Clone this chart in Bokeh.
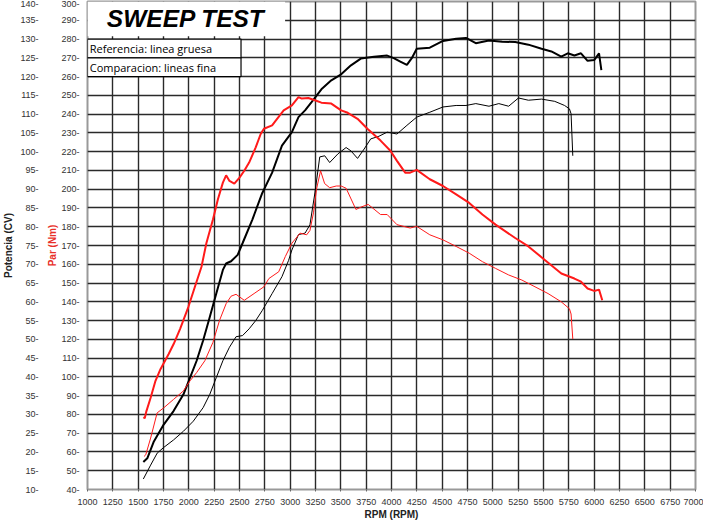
from bokeh.plotting import figure
from bokeh.models import Range1d, LinearAxis, FixedTicker, PrintfTickFormatter
from bokeh.core.properties import value
from bokeh.embed import file_html
from bokeh.resources import INLINE

# ---------------- data ----------------
# Reference run (thick lines)
ref_tq_rpm = [1551, 1565, 1580, 1623, 1671, 1720, 1801, 1850, 1914, 1995, 2060, 2125, 2173, 2238,
              2287, 2336, 2368, 2401, 2449, 2498, 2547, 2595, 2660, 2709, 2741, 2822, 2871, 2936,
              3017, 3082, 3114, 3179, 3244, 3308, 3406, 3503, 3568, 3665, 3762, 3892, 3989, 4054,
              4135, 4184, 4249, 4378, 4508, 4638, 4767, 4897, 5027, 5221, 5351, 5513, 5676, 5805,
              5870, 5935, 6000, 6048, 6080]
ref_tq_nm = [78.5, 78.0, 81.5, 88.9, 97.9, 104.1, 112.2, 117.5, 125.6, 137.2, 148.0, 158.7, 171.2, 183.8,
             194.6, 203.5, 207.4, 204.4, 203.0, 206.0, 209.8, 214.2, 222.3, 229.4, 232.2, 234.0, 237.5, 242.0,
             244.7, 249.1, 248.3, 248.6, 247.4, 246.1, 245.6, 242.0, 240.7, 237.5, 232.2, 225.9, 220.5, 215.1,
             208.8, 208.8, 210.3, 205.3, 201.7, 197.2, 192.7, 186.5, 181.1, 174.0, 169.5, 162.3, 155.1, 152.4,
             150.7, 147.1, 145.8, 146.5, 140.8]

ref_pw_rpm = [1551, 1590, 1655, 1752, 1849, 1946, 2012, 2077, 2141, 2206, 2271, 2336, 2368, 2417,
              2482, 2530, 2627, 2725, 2822, 2919, 3017, 3082, 3147, 3211, 3308, 3406, 3503, 3600,
              3697, 3827, 3957, 4022, 4087, 4152, 4200, 4249, 4378, 4508, 4638, 4735, 4832, 4962,
              5092, 5221, 5351, 5481, 5578, 5675, 5740, 5805, 5870, 5935, 6000, 6048, 6071]
ref_pw_cv = [17.3, 18.3, 22.8, 27.3, 30.9, 35.3, 39.8, 44.3, 49.7, 55.9, 62.2, 68.5, 70.2, 70.8,
             72.5, 75.6, 81.9, 89.0, 94.4, 101.6, 105.2, 109.2, 111.0, 113.2, 116.6, 119.0, 120.6, 123.0,
             124.8, 125.3, 125.6, 124.9, 124.0, 123.1, 124.9, 127.4, 127.7, 129.5, 130.1, 130.3, 128.9, 129.6,
             129.3, 129.2, 128.5, 127.4, 126.7, 125.3, 126.2, 125.6, 126.2, 124.2, 124.4, 126.2, 121.7]

# Comparison run (thin lines)
cmp_tq_rpm = [1558, 1575, 1623, 1687, 1752, 1849, 1946, 2012, 2077, 2158, 2238, 2303, 2368, 2417,
              2466, 2547, 2644, 2741, 2790, 2887, 2952, 3017, 3098, 3163, 3195, 3230, 3260, 3300,
              3340, 3390, 3455, 3503, 3552, 3649, 3700, 3770, 3892, 3957, 4054, 4184, 4249, 4378,
              4508, 4638, 4767, 4897, 5027, 5156, 5286, 5416, 5545, 5675, 5756, 5772, 5789]
cmp_tq_nm = [57.6, 58.5, 67.4, 80.8, 83.5, 88.0, 92.5, 97.9, 102.3, 108.6, 118.4, 130.1, 139.0, 143.0,
             144.0, 140.8, 144.4, 148.0, 152.4, 156.0, 164.1, 171.2, 176.6, 175.7, 178.0, 187.4, 200.0, 209.8,
             203.0, 200.8, 201.7, 201.7, 200.5, 189.2, 190.5, 191.9, 186.5, 186.5, 181.1, 179.3, 180.2, 175.7,
             173.0, 169.5, 165.9, 161.4, 157.8, 154.3, 151.6, 148.0, 144.4, 140.0, 136.3, 133.5, 120.2]

cmp_pw_rpm = [1551, 1623, 1688, 1752, 1849, 1946, 2044, 2141, 2206, 2271, 2336, 2401, 2466, 2530,
              2595, 2660, 2725, 2822, 2919, 2984, 3017, 3082, 3147, 3195, 3244, 3292, 3341, 3390,
              3471, 3552, 3600, 3665, 3730, 3795, 3876, 3957, 4054, 4152, 4249, 4378, 4508, 4638,
              4735, 4832, 4962, 5059, 5156, 5253, 5351, 5481, 5611, 5708, 5756, 5772, 5789]
cmp_pw_cv = [12.8, 16.5, 19.7, 21.2, 23.2, 25.5, 28.2, 31.8, 35.3, 39.8, 44.3, 47.9, 50.7, 51.0,
             52.8, 55.0, 57.7, 62.2, 66.7, 71.0, 73.8, 77.9, 78.3, 80.5, 89.0, 98.6, 98.9, 97.1,
             99.4, 101.1, 100.2, 98.2, 100.7, 103.4, 104.1, 105.2, 104.7, 107.0, 109.2, 110.5, 111.9, 112.3,
             112.3, 112.8, 112.1, 112.8, 112.1, 114.3, 113.7, 114.0, 113.4, 112.3, 111.4, 110.1, 98.9]

rpm_ticks = list(range(1000, 7001, 250))
torque_ticks = list(range(40, 301, 10))
power_ticks = list(range(10, 141, 5))

title_text = "SWEEP TEST"
legend_lines = ["Referencia: linea gruesa", "Comparacion: lineas fina"]

# ---------------- figure ----------------
FONT = "Liberation Sans"
p = figure(width=703, height=522, x_range=Range1d(1000, 7000), y_range=Range1d(40, 300),
           output_backend="svg", toolbar_location=None,
           min_border_top=1, min_border_bottom=0, min_border_left=0, min_border_right=8)
p.extra_y_ranges = {"power": Range1d(10, 140)}
p.background_fill_color = "white"
p.border_fill_color = "white"
p.outline_line_color = "#999999"
p.outline_line_width = 2

# grid
p.xgrid.ticker = FixedTicker(ticks=rpm_ticks)
p.ygrid.ticker = FixedTicker(ticks=torque_ticks)
for g in (p.xgrid[0], p.ygrid[0]):
    g.grid_line_color = "#2a2a2a"
    g.grid_line_width = 1.4
    g.grid_line_alpha = 1.0

# x axis
xa = p.xaxis[0]
xa.ticker = FixedTicker(ticks=rpm_ticks)
xa.axis_line_color = None
xa.major_tick_line_color = "#666666"
xa.major_tick_out = 2
xa.major_tick_in = 0
xa.minor_tick_line_color = None
xa.major_label_standoff = 7
xa.major_label_text_font = FONT
xa.major_label_text_font_size = "9px"
xa.major_label_text_color = "#333333"
xa.axis_label = "RPM (RPM)"
xa.axis_label_text_font = FONT
xa.axis_label_text_font_size = "10px"
xa.axis_label_text_font_style = "bold"
xa.axis_label_text_color = "#222222"
xa.axis_label_standoff = 1

def style_y(ax, ticks, label, label_color, standoff, label_standoff):
    ax.ticker = FixedTicker(ticks=ticks)
    ax.formatter = PrintfTickFormatter(format="%d-")
    ax.axis_line_color = None
    ax.major_tick_line_color = None
    ax.minor_tick_line_color = None
    ax.major_tick_out = 0
    ax.major_tick_in = 0
    ax.major_label_standoff = standoff
    ax.major_label_text_font = FONT
    ax.major_label_text_font_size = "9px"
    ax.major_label_text_color = "#333333"
    ax.axis_label = label
    ax.axis_label_text_font = FONT
    ax.axis_label_text_font_size = "10px"
    ax.axis_label_text_font_style = "bold"
    ax.axis_label_text_color = label_color
    ax.axis_label_standoff = label_standoff

style_y(p.yaxis[0], torque_ticks, "Par (Nm)", "#e8302a", 8, 0)
pax = LinearAxis(y_range_name="power")
p.add_layout(pax, "left")
style_y(pax, power_ticks, "Potencia (CV)", "#222222", 6, 3)

# title box and legend box (white panels over the grid)
p.quad(left=[1000], right=[2950], bottom=[281.5], top=[300], fill_color="white", line_color=None)
p.quad(left=[1000, 1000], right=[2515, 2515], bottom=[270, 260], top=[280, 270],
       fill_color="white", line_color="black", line_width=1.2)
p.text(x=[1970], y=[291.2], text=[title_text], text_font=value(FONT), text_font_style="bold italic",
       text_font_size="24.5px", text_align="center", text_baseline="middle", text_color="black")
p.text(x=[1022, 1022], y=[275.2, 265.0], text=legend_lines, text_font=value("Open Sans"),
       text_font_size="11px", text_align="left", text_baseline="middle", text_color="black")

# curves
p.line(ref_pw_rpm, ref_pw_cv, y_range_name="power", line_color="black", line_width=2.0)
p.line(cmp_pw_rpm, cmp_pw_cv, y_range_name="power", line_color="black", line_width=1.0)
p.line(ref_tq_rpm, ref_tq_nm, line_color="#ff1a1a", line_width=2.0)
p.line(cmp_tq_rpm, cmp_tq_nm, line_color="#ff1a1a", line_width=1.0)

open("out.html", "w").write(file_html(p, INLINE))
